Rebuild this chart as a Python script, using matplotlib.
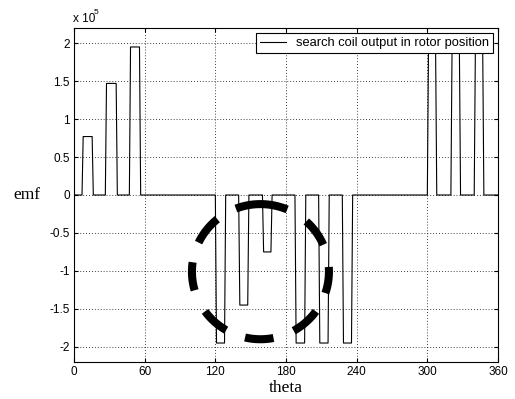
import numpy as np
import matplotlib
matplotlib.use("Agg")
import matplotlib.pyplot as plt

# ---- data (emf in units of 1e5) ----
pulse_on = [6.8, 26.6, 47.0, 120.0, 139.8, 160.0, 187.6, 207.7, 227.8, 300.0, 320.0, 339.8]
pulse_off = [16.4, 36.8, 56.6, 128.8, 148.5, 168.2, 196.8, 216.7, 236.6, 308.0, 328.2, 348.0]
pulse_amp = [0.77, 1.47, 1.95, -1.95, -1.45, -0.75, -1.95, -1.95, -1.95, 1.95, 1.95, 1.95]
ramp = 1.0

xticks = [0, 60, 120, 180, 240, 300, 360]
yticks = [-2, -1.5, -1, -0.5, 0, 0.5, 1, 1.5, 2]
ytick_labels = ["-2", "-1.5", "-1", "-0.5", "0", "0.5", "1", "1.5", "2"]

# build waveform from pulses
theta = [0.0]
emf = [0.0]
for on, off, a in zip(pulse_on, pulse_off, pulse_amp):
    theta += [on, on + ramp, off - ramp, off]
    emf += [0.0, a, a, 0.0]
theta.append(360.0)
emf.append(0.0)

plt.rcParams['font.family'] = ['Liberation Sans', 'DejaVu Sans']

fig = plt.figure(figsize=(5.15, 3.99), dpi=100)
ax = fig.add_axes([74/515, 1-362/399, (498-74)/515, (362-28)/399])

ax.plot(theta, emf, color='black', linewidth=0.8,
        label='search coil output in rotor position')

ax.set_xlim(0, 360)
ax.set_ylim(-2.2, 2.2)
ax.set_xticks(xticks)
ax.set_yticks(yticks)
ax.set_yticklabels(ytick_labels)
ax.tick_params(direction='in', length=3, width=0.8, top=True, right=True,
               labelsize=8.5, pad=3, colors='black')
ax.grid(True, color='black', linestyle=(0, (1, 2.5)), linewidth=0.6)
for s in ax.spines.values():
    s.set_linewidth(0.8)
    s.set_color('black')

# dashed ellipse annotation (hand-drawn dashes), parametric angles
cx, cy = 158.3, -1.01
w, h = 116.3, 1.78
dash_arcs = [(67, 111), (23.5, 48), (-18.5, 4), (-61, -36), (-103, -79),
             (-144, -120), (172, 196), (129, 154.5)]
for t1, t2 in dash_arcs:
    t = np.radians(np.linspace(t1, t2, 40))
    ax.plot(cx + w / 2 * np.cos(t), cy + h / 2 * np.sin(t), color='black',
            linewidth=5.8, solid_capstyle='butt', zorder=5)

leg = ax.legend(loc='upper right', fontsize=9.3, frameon=True, fancybox=False,
                edgecolor='black', framealpha=1, handlelength=2.0,
                borderaxespad=0.4, borderpad=0.3, handletextpad=0.8)
leg.get_frame().set_linewidth(0.8)

ax.set_xlabel('theta', family=['Liberation Serif'], fontsize=12.5, labelpad=1)
fig.text(27/515, 1-195/399, 'emf', family=['Liberation Serif'], fontsize=12.5,
         ha='center', va='center')

fig.text(73/515, 1-22/399, 'x 10', fontsize=8.5, ha='left', va='baseline')
fig.text(94/515, 1-14/399, '5', fontsize=6, ha='left', va='baseline')

fig.savefig('out.png', dpi=100)
